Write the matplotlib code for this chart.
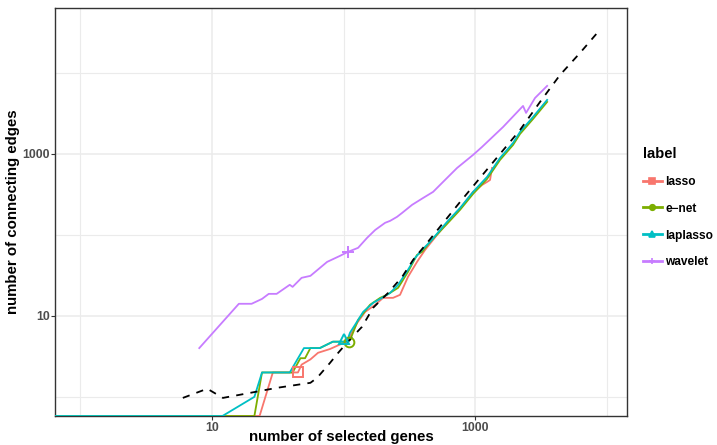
import numpy as np
import matplotlib
matplotlib.use('Agg')
from matplotlib import pyplot
from matplotlib.lines import Line2D

pyplot.rcParams['font.family'] = ['Liberation Sans', 'DejaVu Sans']
pyplot.rcParams['font.weight'] = 'bold'

# selected genes vs. connecting edges, 0 means none (drawn on the panel edge)
lasso_x = [0, 23, 29, 45, 48, 56, 64, 79, 99, 106, 127, 146, 174, 200, 238,
           269, 309, 362, 417, 514, 613, 769, 966, 1019, 1130, 1234, 1300, 1346]
lasso_y = [0, 0, 2, 2, 2.5, 2.9, 3.5, 3.9, 4.6, 4.8, 8.2, 11.2, 13.7, 16.7,
           16.7, 18.2, 30.3, 46.4, 65.3, 100, 141, 210, 340, 359, 414, 451,
           477, 671]

enet_x = [0, 21, 24, 41, 47, 51, 56, 66, 83, 99, 112, 129, 159, 190, 214,
          260, 309, 362, 395, 455, 613, 769, 966, 1234, 1549, 1945, 2198,
          2761, 3532]
enet_y = [0, 0, 2, 2, 3, 3, 4, 4, 4.8, 4.8, 5, 8.9, 13.7, 16.7, 18.2, 22.2,
          34.9, 56.6, 61.7, 82, 137, 204, 321, 491, 844, 1291, 1766, 2704,
          4385]

laplasso_x = [0, 12, 21, 24, 39, 50, 66, 83, 106, 112, 122, 141, 168, 196,
              226, 260, 309, 350, 395, 455, 613, 769, 966, 1234, 1549, 1945,
              2198, 2761, 3532]
laplasso_y = [0, 0, 1, 2, 2, 4, 4, 4.8, 4.8, 6.2, 7.7, 11.2, 14.5, 16.7, 19.2,
              24.2, 37, 52, 65.3, 82, 145, 215, 340, 520, 893, 1367, 1870,
              2863, 4645]

wavelet_x = [8, 16, 20, 24, 27, 31, 39, 41, 48, 56, 75, 94, 108, 129, 151,
             174, 207, 226, 255, 279, 332, 403, 480, 571, 730, 966, 1130,
             1633, 2317, 2443, 2858, 3532]
wavelet_y = [4.0, 14.1, 14.1, 16.2, 18.7, 18.7, 24.2, 22.8, 29.5, 31.2, 46.4,
             55.1, 61.7, 69.2, 91.9, 115, 141, 149, 167, 187, 235, 286, 340,
             451, 671, 972, 1220, 2150, 3915, 3210, 4910, 6920]

# expected number of edges for a random selection
expected_x = [6, 9.2, 12.1, 19.5, 31, 56, 63, 79, 91, 106, 138, 168, 218,
              279, 338, 432, 542, 769, 1091, 1549, 2198, 3119, 4426, 6281, 8610]
expected_y = [0.97, 1.26, 0.97, 1.12, 1.29, 1.49, 1.72, 2.63, 3.49, 4.64,
              7.31, 12.6, 19.2, 30.3, 49.1, 79.6, 126, 255, 506, 1000, 1977,
              4385, 9440, 17660, 32060]

# chosen model for each method
pick_x = [45, 110, 100, 108]
pick_y = [2, 4.8, 5.2, 62]

labels = ['lasso', 'e\u2212net', 'laplasso', 'wavelet']
colors = ['#F8766D', '#7CAE00', '#00BFC4', '#C77CFF']
markers = ['s', 'o', '^', '+']

xlim = (0.64, 14300)
ylim = (0.58, 63400)


def squish(v, lo):
    v = np.asarray(v, dtype=float)
    return np.where(v > 0, v, lo)


figure = pyplot.figure(figsize=(7.17, 4.45), dpi=100)
plot = figure.add_axes([55 / 717, 1 - 416 / 445, 572 / 717, 408 / 445])
plot.set_xscale('log')
plot.set_yscale('log')
plot.set_xlim(*xlim)
plot.set_ylim(*ylim)

series = [(lasso_x, lasso_y), (enet_x, enet_y),
          (laplasso_x, laplasso_y), (wavelet_x, wavelet_y)]
for (x, y), c in zip(series, colors):
    plot.plot(squish(x, xlim[0]), squish(y, ylim[0]), color=c, lw=1.3,
              zorder=3)

plot.plot(expected_x, expected_y, color='black', lw=1.3,
          linestyle=(0, (4, 4)), zorder=4)

for px, py, c, m in zip(pick_x, pick_y, colors, markers):
    plot.plot([px], [py], marker=m, color=c, markerfacecolor='none',
              markersize=8 if m == '+' else 7, markeredgewidth=1.4,
              linestyle='none', zorder=5)

plot.set_xticks([10, 1000])
plot.set_xticklabels(['10', '1000'])
plot.set_xticks([1, 100, 10000], minor=True)
plot.set_yticks([10, 1000])
plot.set_yticklabels(['10', '1000'])
plot.set_yticks([1, 100, 10000], minor=True)
plot.tick_params(which='minor', length=0, labelleft=False, labelbottom=False)
plot.tick_params(which='major', length=3, width=0.8, color='#333333',
                 labelsize=8.8, labelcolor='#4D4D4D')
plot.tick_params(axis='x', which='major', pad=1.5)
plot.tick_params(axis='y', which='major', pad=0.6)
for lab in plot.get_xticklabels() + plot.get_yticklabels():
    lab.set_fontweight('bold')

plot.grid(True, which='major', color='#EBEBEB', lw=1.1)
plot.grid(True, which='minor', color='#EBEBEB', lw=0.8)
plot.set_axisbelow(True)
for s in plot.spines.values():
    s.set_color('#333333')
    s.set_linewidth(1.0)

plot.set_xlabel('number of selected genes', fontsize=10.8, fontweight='bold',
                labelpad=-3)
plot.set_ylabel('number of connecting edges', fontsize=10.8, fontweight='bold',
                labelpad=1.5)

handles = [Line2D([], [], color=c, marker=m, lw=2, markersize=4,
                  markeredgewidth=1.2)
           for c, m in zip(colors, markers)]
legend = figure.legend(handles, labels, title='label', loc='upper left',
                       bbox_to_anchor=(632 / 717, 1 - 136 / 445),
                       frameon=False, fontsize=8.6, handlelength=1.6,
                       handletextpad=0.3, labelspacing=1.25,
                       alignment='left',
                       title_fontproperties={'size': 10.7, 'weight': 'bold'})
for t in legend.get_texts():
    t.set_fontweight('bold')

figure.savefig('out.png', dpi=100)
